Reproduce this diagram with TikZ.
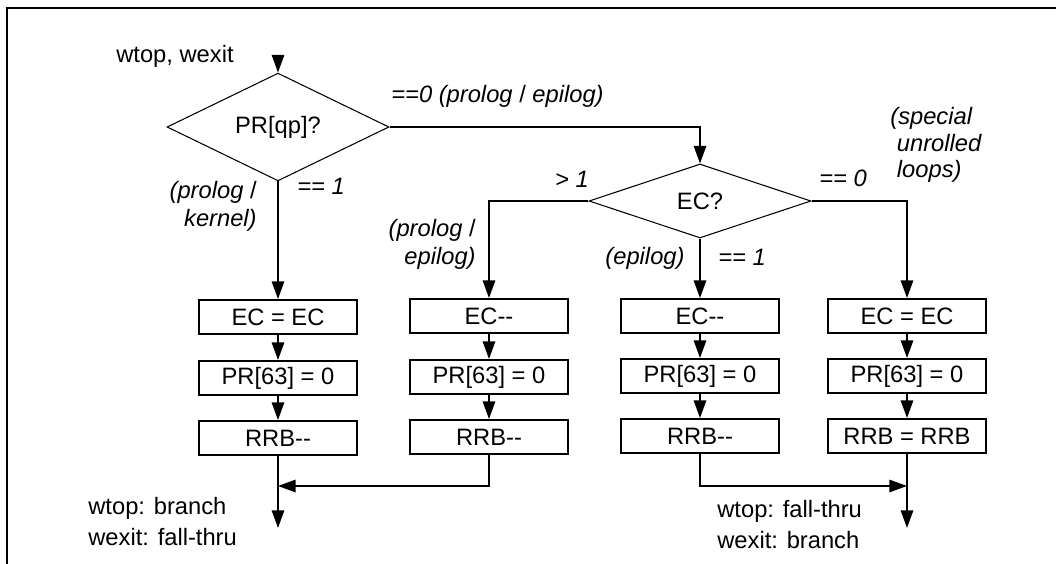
\documentclass[tikz,border=0pt]{standalone}
\usepackage{fontspec}
\setmainfont{Liberation Sans}
\usetikzlibrary{shapes.geometric,arrows.meta}
\newcommand{\chartfont}{\fontsize{13.5}{16}\selectfont}
\tikzset{
 test/.style={diamond,draw,line width=0.6pt,minimum width=4.44cm,minimum height=1.48cm,inner sep=0pt,font=\chartfont},
 stepbox/.style={draw,line width=1.1pt,minimum width=3.16cm,minimum height=0.68cm,inner sep=0pt,font=\chartfont},
 flow/.style={line width=1.1pt,-{Triangle[length=10pt,width=7pt]}},
 cond/.style={inner sep=0pt,font=\chartfont\itshape},
 note/.style={inner sep=0pt,font=\chartfont}
}
\begin{document}
\begin{tikzpicture}[x=0.02cm,y=-0.02cm]
\useasboundingbox (0,0) rectangle (1056,564);
\draw[line width=1.1pt] (7,564)--(7,8)--(1056,8);
\node[note,anchor=base] (entry) at (175,63){wtop, wexit};
\coordinate (in) at (278,65);
\node[test] (qp) at (278,127){PR[qp]?};
\node[test] (ec) at (700,201){EC?};
\node[stepbox] (a1) at (278,317){EC = EC};\node[stepbox] (a2) at (278,378){PR[63] = 0};\node[stepbox] (a3) at (278,438){RRB-{}-};
\node[stepbox] (b1) at (489,316){EC-{}-};\node[stepbox] (b2) at (489,377){PR[63] = 0};\node[stepbox] (b3) at (489,437){RRB-{}-};
\node[stepbox] (c1) at (700,316){EC-{}-};\node[stepbox] (c2) at (700,376){PR[63] = 0};\node[stepbox] (c3) at (700,436){RRB-{}-};
\node[stepbox] (d1) at (907,316){EC = EC};\node[stepbox] (d2) at (907,376){PR[63] = 0};\node[stepbox] (d3) at (907,436){RRB = RRB};
\draw[flow] (in)--(qp.north);
\draw[flow] (qp.east)-|(ec.north);\draw[flow] (qp.south)--(a1.north);
\draw[flow] (ec.west)-|(b1.north);\draw[flow] (ec.south)--(c1.north);\draw[flow] (ec.east)-|(d1.north);
\foreach \c in {a,b,c,d}{\draw[flow] (\c1.south)--(\c2.north);\draw[flow] (\c2.south)--(\c3.north);}
\coordinate (jl) at (278,486);\coordinate (jr) at (907,486);
\coordinate (outl) at (278,528);\coordinate (outr) at (907,528);
\draw[flow] (b3.south)|-(jl);\draw[flow] (a3.south)--(outl);
\draw[flow] (c3.south)|-(jr);\draw[flow] (d3.south)--(outr);
\node[cond,anchor=base west] (zero) at (391,103){==0 (prolog {\upshape/} epilog)};
\node[cond,anchor=base east,align=right] (pk) at (257,227){(prolog {\upshape/}\\kernel)};
\node[cond,anchor=base] (one) at (321,195){== 1};
\node[cond,anchor=base] (gt) at (572,188){> 1};
\node[cond,anchor=base east,align=right] (pe) at (476,265){(prolog {\upshape/}\\epilog)};
\node[cond,anchor=base] (epi) at (645,265){(epilog)};
\node[cond,anchor=base] (eone) at (742,266){== 1};
\node[cond,anchor=base] (ezero) at (843,187){== 0};
\node[cond,anchor=base west,align=left,font=\fontsize{13.5}{15.2}\selectfont\itshape] (spec) at (890,178){(special\\\ unrolled\\\ loops)};
\node[note,anchor=base west,align=left,font=\fontsize{13.5}{17.5}\selectfont] (exl) at (88,545){wtop: branch\\wexit: fall-thru};
\node[note,anchor=base west,align=left,font=\fontsize{13.5}{17.5}\selectfont] (exr) at (717,548){wtop: fall-thru\\wexit: branch};
\end{tikzpicture}
\end{document}
